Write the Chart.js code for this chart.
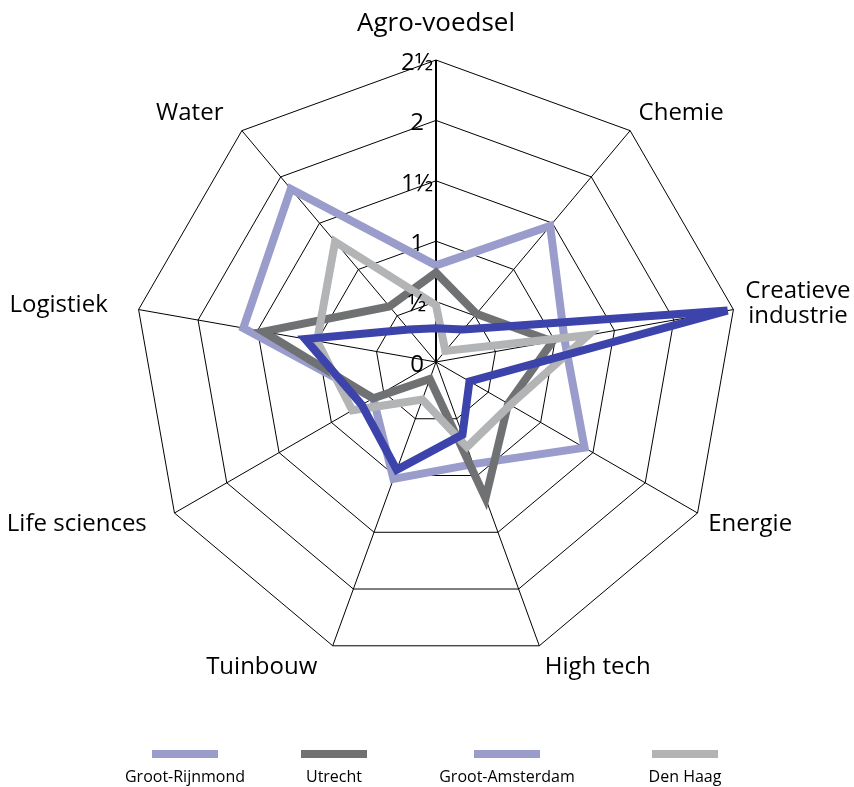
<!DOCTYPE html>
<html>
<head>
<meta charset="utf-8">
<title>Topsectoren per regio</title>
<script src="https://cdn.jsdelivr.net/npm/chart.js@4.4.1/dist/chart.umd.min.js"></script>
<style>
  html, body { margin: 0; padding: 0; background: #ffffff; }
  canvas { display: block; }
</style>
</head>
<body>
<canvas id="radar" width="854" height="787"></canvas>
<script>
// Sectors (axes of the radar, clockwise from the top)
const sectors = ['Agro-voedsel', 'Chemie', ['Creatieve', 'industrie'], 'Energie', 'High tech',
                 'Tuinbouw', 'Life sciences', 'Logistiek', 'Water'];

// Scores per region, in the same order as the sectors
const grootRijnmond  = [0.80, 1.47, 1.08, 1.42, 0.90, 1.03, 0.60, 1.62, 1.87];
const utrecht        = [0.74, 0.52, 0.98, 0.69, 1.20, 0.15, 0.60, 1.45, 0.60];
const grootAmsterdam = [0.28, 0.35, 2.45, 0.32, 0.64, 0.95, 0.71, 1.10, 0.35];
const denHaag        = [0.47, 0.12, 1.28, 0.71, 0.75, 0.33, 0.80, 1.00, 1.30];

const regionNames = ['Groot-Rijnmond', 'Utrecht', 'Groot-Amsterdam', 'Den Haag'];
const lineColors  = ['#9a9ccb', '#707172', '#3c43aa', '#b2b4b5'];
const swatchColors = ['#9a9ccb', '#717171', '#9a9ccb', '#b1b3b4'];

// Radial axis
const axisMin = 0;
const axisMax = 2.5;
const axisStep = 0.5;
const tickLabels = ['0', '½', '1', '1½', '2', '2½'];

const FONT = '"Open Sans", "DejaVu Sans", sans-serif';

// Sector names around the outer ring
const sectorLabelPlugin = {
  id: 'sectorLabels',
  afterDraw(chart) {
    const s = chart.scales.r;
    const ctx = chart.ctx;
    const lineH = 25;
    // extra sideways room for the names on the left half
    const shiftX = [0, 2, 2, 2, 2, -12, -19, -21, -12];
    ctx.save();
    ctx.fillStyle = '#000000';
    ctx.textAlign = 'center';
    ctx.textBaseline = 'middle';
    chart.data.labels.forEach((lab, i) => {
      const lines = Array.isArray(lab) ? lab : [lab];
      const ang = s.getIndexAngle(i);
      const sin = Math.sin(ang), cos = Math.cos(ang);
      const top0 = Math.abs(sin) < 0.01;
      ctx.font = (top0 ? '26px ' : '24px ') + FONT;
      const gap = top0 ? 24 : 10;
      const p = s.getPointPosition(i, s.drawingArea + gap);
      const w = Math.max(...lines.map(t => ctx.measureText(t).width));
      const h = lines.length * lineH;
      let left;
      if (top0) left = p.x - w / 2;
      else if (sin > 0) left = p.x + shiftX[i];
      else left = p.x - w + shiftX[i];
      const top = p.y - h / 2 - cos * h / 2;
      lines.forEach((t, k) => ctx.fillText(t, left + w / 2, top + lineH * k + lineH / 2));
    });
    ctx.restore();
  }
};

// Value labels along the vertical axis
const tickLabelPlugin = {
  id: 'tickLabels',
  afterDraw(chart) {
    const s = chart.scales.r;
    const ctx = chart.ctx;
    ctx.save();
    ctx.font = '24px ' + FONT;
    ctx.fillStyle = '#000000';
    ctx.textAlign = 'center';
    ctx.textBaseline = 'middle';
    s.ticks.forEach((t, i) => {
      const d = s.getDistanceFromCenterForValue(t.value);
      ctx.fillText(tickLabels[i], s.xCenter - 19, s.yCenter - d + 3);
    });
    ctx.restore();
  }
};

// Legend: swatch line with the region name underneath
const legendPlugin = {
  id: 'swatchLegend',
  afterDraw(chart) {
    const ctx = chart.ctx;
    const centers = [185, 334, 507, 685];
    ctx.save();
    ctx.font = '16px ' + FONT;
    ctx.textAlign = 'center';
    ctx.textBaseline = 'middle';
    chart.data.datasets.forEach((ds, i) => {
      ctx.fillStyle = swatchColors[i];
      ctx.fillRect(centers[i] - 33, 750, 66, 8);
      ctx.fillStyle = '#000000';
      ctx.fillText(ds.label, centers[i], 777);
    });
    ctx.restore();
  }
};

const series = [grootRijnmond, utrecht, grootAmsterdam, denHaag];
const drawOrder = [3, 2, 0, 1];

new Chart(document.getElementById('radar'), {
  type: 'radar',
  data: {
    labels: sectors,
    datasets: series.map((vals, i) => ({
      label: regionNames[i],
      data: vals,
      borderColor: lineColors[i],
      backgroundColor: lineColors[i],
      borderWidth: 8,
      borderJoinStyle: 'miter',
      fill: false,
      pointRadius: 0,
      pointHoverRadius: 0,
      tension: 0,
      order: drawOrder[i]
    }))
  },
  options: {
    responsive: false,
    animation: false,
    events: [],
    layout: { padding: { left: 134, right: 116, top: 60, bottom: 123 } },
    plugins: {
      legend: { display: false },
      tooltip: { enabled: false }
    },
    scales: {
      r: {
        min: axisMin,
        max: axisMax,
        beginAtZero: true,
        ticks: { stepSize: axisStep, display: false },
        pointLabels: { display: false },
        grid: { color: '#000000', lineWidth: 1, circular: false },
        angleLines: {
          display: true,
          color: '#000000',
          lineWidth: (ctx) => (ctx.index === 0 ? 2 : 1)
        }
      }
    }
  },
  plugins: [sectorLabelPlugin, tickLabelPlugin, legendPlugin]
});
</script>
</body>
</html>
